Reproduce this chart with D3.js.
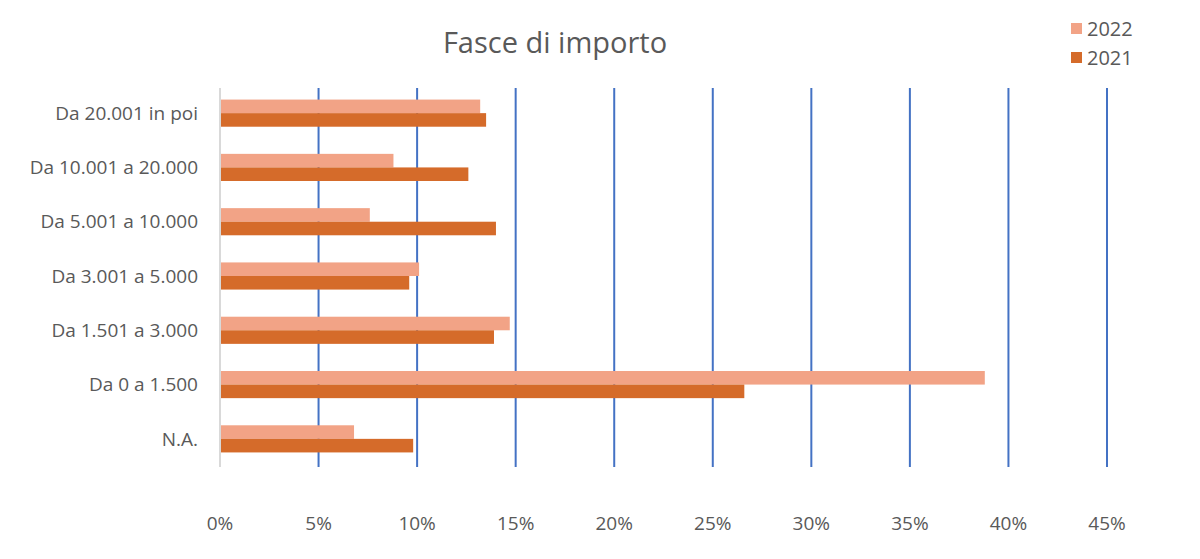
<!DOCTYPE html>
<meta charset="utf-8">
<style>
  body { margin: 0; background: #fff; }
  text { font-family: "Open Sans", "Liberation Sans", sans-serif; fill: #595959; }
</style>
<body>
<div id="chart"></div>
<script src="https://d3js.org/d3.v7.min.js"></script>
<script>
  var categories = ["Da 20.001 in poi", "Da 10.001 a 20.000", "Da 5.001 a 10.000",
    "Da 3.001 a 5.000", "Da 1.501 a 3.000", "Da 0 a 1.500", "N.A."];
  var seriesNames = ["2022", "2021"];
  var values2022 = [13.2, 8.8, 7.6, 10.1, 14.7, 38.8, 6.8];
  var values2021 = [13.5, 12.6, 14.0, 9.6, 13.9, 26.6, 9.8];
  var xTicks = [0, 5, 10, 15, 20, 25, 30, 35, 40, 45];

  var w = 1200, h = 559;
  var colors = { "2022": "#f2a386", "2021": "#d56b2a" };

  var svg = d3.select("#chart").append("svg")
    .attr("width", w).attr("height", h);

  var x = d3.scaleLinear().domain([0, 45]).range([220, 1107]);
  var y = d3.scaleBand().domain(categories).range([86, 466])
    .paddingInner(0.5).paddingOuter(0.25);
  var ySub = d3.scaleBand().domain(seriesNames).range([0, y.bandwidth()]);

  // gridlines
  svg.append("g").selectAll("line")
    .data(xTicks.slice(1))
    .enter().append("line")
    .attr("x1", function (d) { return x(d); })
    .attr("x2", function (d) { return x(d); })
    .attr("y1", 88).attr("y2", 467)
    .attr("stroke", "#4472c4").attr("stroke-width", 2);

  svg.append("line")
    .attr("x1", x(0)).attr("x2", x(0))
    .attr("y1", 88).attr("y2", 467)
    .attr("stroke", "#d9d9d9").attr("stroke-width", 2);

  var rows = categories.map(function (c, i) {
    return { cat: c, vals: [{ s: "2022", v: values2022[i] }, { s: "2021", v: values2021[i] }] };
  });

  var g = svg.append("g").selectAll("g")
    .data(rows).enter().append("g")
    .attr("transform", function (d) { return "translate(0," + y(d.cat) + ")"; });

  g.selectAll("rect")
    .data(function (d) { return d.vals; })
    .enter().append("rect")
    .attr("x", x(0) + 1)
    .attr("y", function (d) { return ySub(d.s); })
    .attr("height", ySub.bandwidth())
    .attr("width", function (d) { return x(d.v) - x(0) - 1; })
    .attr("fill", function (d) { return colors[d.s]; });

  // category labels
  svg.append("g").selectAll("text")
    .data(categories).enter().append("text")
    .attr("x", 198)
    .attr("y", function (d) { return y(d) + y.bandwidth() / 2; })
    .attr("dy", "0.35em")
    .attr("text-anchor", "end")
    .attr("font-size", 19)
    .text(function (d) { return d; });

  // x axis labels
  svg.append("g").selectAll("text")
    .data(xTicks).enter().append("text")
    .attr("x", function (d) { return x(d); })
    .attr("y", 523)
    .attr("dy", "0.35em")
    .attr("text-anchor", "middle")
    .attr("font-size", 19)
    .text(function (d) { return d + "%"; });

  svg.append("text")
    .attr("x", 555).attr("y", 43)
    .attr("dy", "0.35em")
    .attr("text-anchor", "middle")
    .attr("font-size", 29)
    .text("Fasce di importo");

  var legend = svg.append("g").selectAll("g")
    .data(seriesNames).enter().append("g")
    .attr("transform", function (d, i) { return "translate(1071," + (29 + i * 29) + ")"; });
  legend.append("rect")
    .attr("x", 0).attr("y", -6).attr("width", 11).attr("height", 11)
    .attr("fill", function (d) { return colors[d]; });
  legend.append("text")
    .attr("x", 16).attr("y", 0).attr("dy", "0.35em")
    .attr("font-size", 20)
    .text(function (d) { return d; });
</script>
</body>
